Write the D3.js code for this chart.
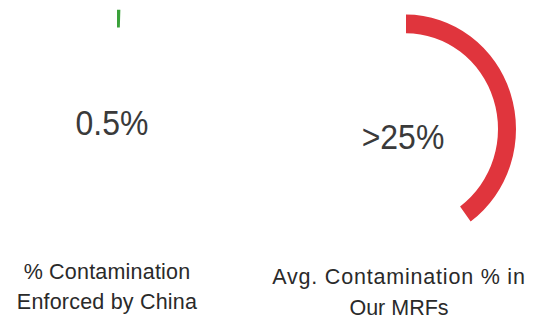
<!DOCTYPE html>
<html><head><meta charset="utf-8">
<script src="https://cdn.jsdelivr.net/npm/d3@7"></script>
<style>body{margin:0;background:#fff}svg{display:block}</style>
</head><body>
<svg id="c" width="540" height="325"></svg>
<script>
const categories = ["% Contamination\nEnforced by China", "Avg. Contamination % in\nOur MRFs"];
const values = [0.005, 0.40];
const centerLabels = ["0.5%", ">25%"];
const colors = ["#3aa13a", "#e0353d"];

const svg = d3.select("#c");
const layout = [
  {cx: 117, cy: 121, r: 107, w: 17, tx: 112, ty: 122, lx: 107, ly: [279, 309], ls: [0.2, 0.2]},
  {cx: 406, cy: 129, r: 110, w: 18, tx: 403, ty: 136, lx: 399, ly: [284, 315], ls: [0.8, 0]}
];
const angle = d3.scaleLinear().domain([0, 1]).range([0, 2 * Math.PI]);

categories.forEach((cat, i) => {
  const L = layout[i];
  const g = svg.append("g").attr("transform", `translate(${L.cx},${L.cy}) scale(1,1.04)`);
  const arc = d3.arc().innerRadius(L.r - L.w).outerRadius(L.r).startAngle(0).endAngle(angle(values[i]));
  g.append("path").attr("d", arc()).attr("fill", colors[i]);
  svg.append("text").attr("x", L.tx).attr("y", L.ty)
    .attr("text-anchor", "middle").attr("dominant-baseline", "central")
    .attr("font-family", "Liberation Sans, Arial, sans-serif").attr("font-size", 32)
    .attr("fill", "#3a3a3a").attr("transform", `translate(0,${L.ty}) scale(1,1.12) translate(0,${-L.ty})`)
    .text(centerLabels[i]);
  const lines = cat.split("\n");
  lines.forEach((ln, j) => {
    svg.append("text").attr("x", L.lx).attr("y", L.ly[j])
      .attr("text-anchor", "middle")
      .attr("font-family", "Liberation Sans, Arial, sans-serif").attr("font-size", 21.5)
      .attr("letter-spacing", L.ls[j])
      .attr("fill", "#2a2a2a").text(ln);
  });
});
</script>
</body></html>
